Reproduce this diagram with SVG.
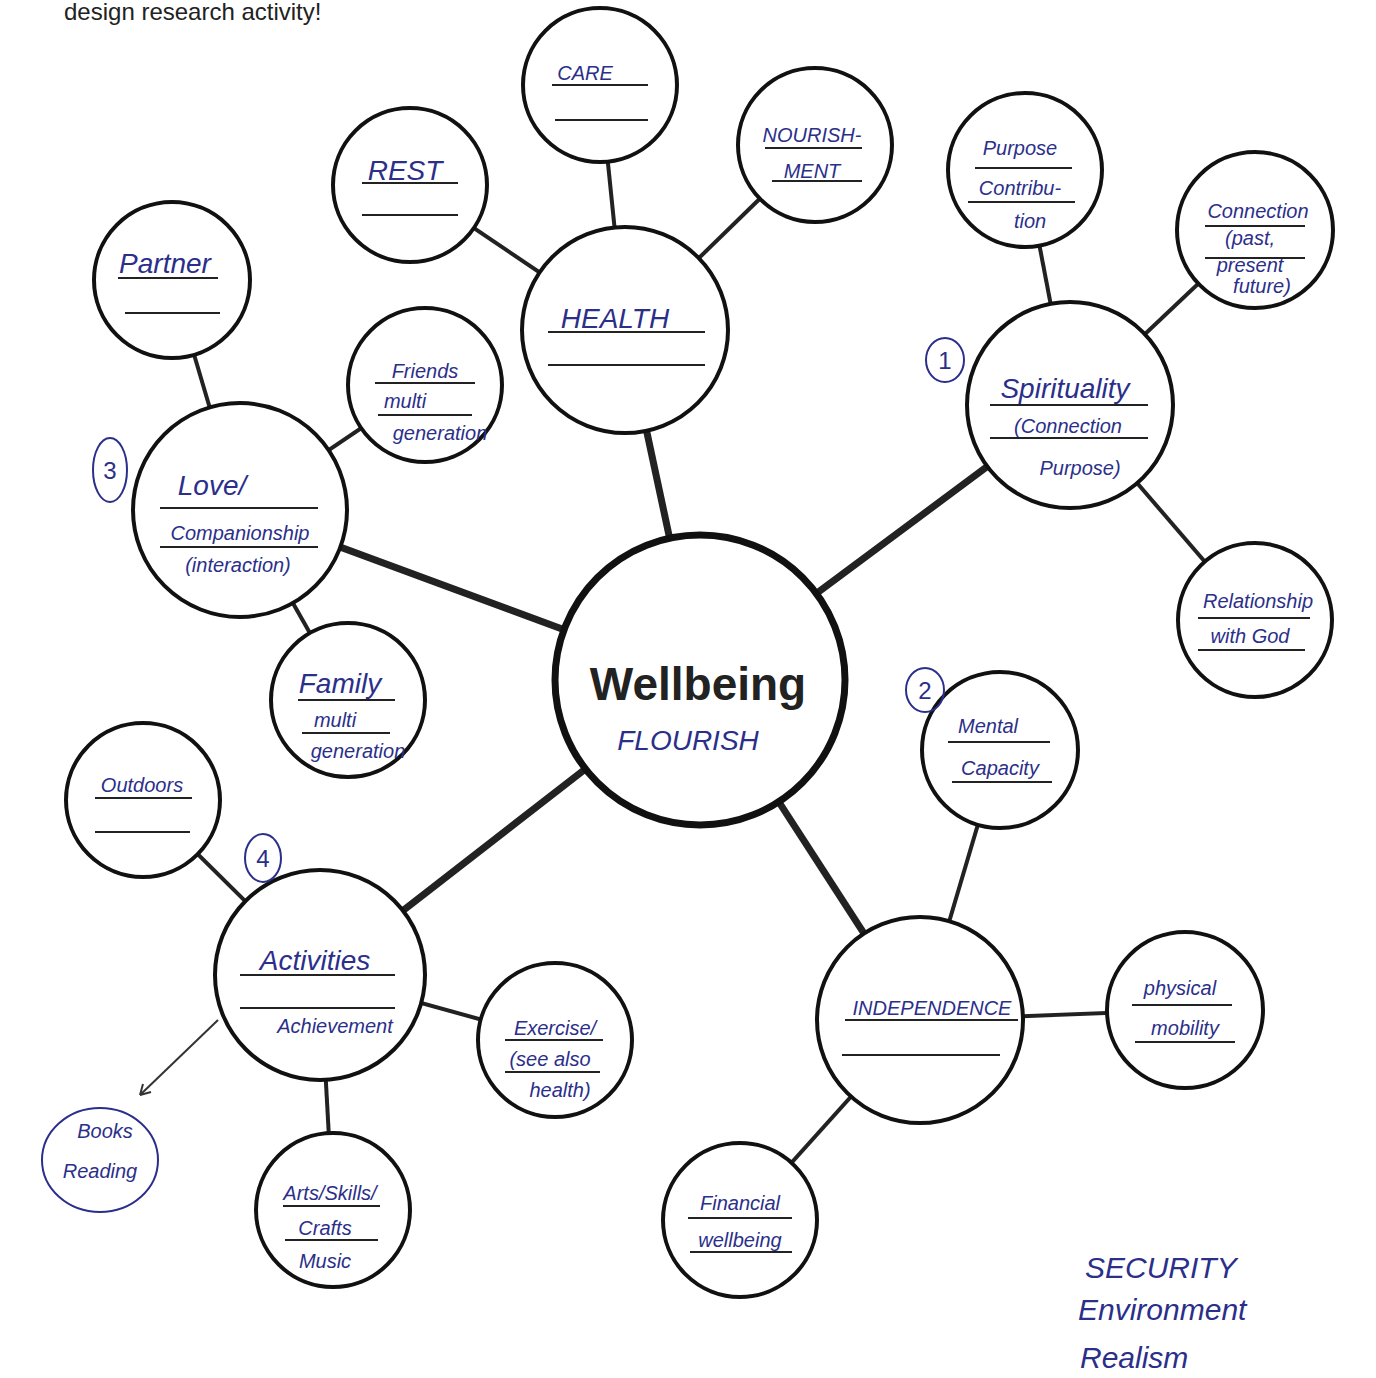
<svg xmlns="http://www.w3.org/2000/svg" width="1376" height="1378" viewBox="0 0 1376 1378">
<style>
.n{fill:#fff;stroke:#111;stroke-width:4}
.big{fill:#fff;stroke:#111;stroke-width:7}
.main{stroke:#222;stroke-width:7}
.sub{stroke:#222;stroke-width:4}
.u{stroke:#222;stroke-width:2}
.h{font-family:"Liberation Sans",sans-serif;font-style:italic;fill:#2b2f8a;font-size:28px;text-anchor:middle}
.s{font-size:20px}
.num{fill:none;stroke:#2b2f8a;stroke-width:2}
</style>
<rect width="1376" height="1378" fill="#fff"/>
<text x="64" y="20" font-family="Liberation Sans,sans-serif" font-size="24" fill="#222">design research activity!</text>
<g id="connectors">
<line class="main" x1="700" y1="680" x2="625" y2="330"/>
<line class="main" x1="700" y1="680" x2="240" y2="510"/>
<line class="main" x1="700" y1="680" x2="1070" y2="405"/>
<line class="main" x1="700" y1="680" x2="320" y2="975"/>
<line class="main" x1="700" y1="680" x2="920" y2="1020"/>
<line class="sub" x1="625" y1="330" x2="600" y2="85"/>
<line class="sub" x1="625" y1="330" x2="815" y2="145"/>
<line class="sub" x1="625" y1="330" x2="410" y2="185"/>
<line class="sub" x1="240" y1="510" x2="172" y2="280"/>
<line class="sub" x1="240" y1="510" x2="425" y2="385"/>
<line class="sub" x1="240" y1="510" x2="348" y2="700"/>
<line class="sub" x1="1070" y1="405" x2="1025" y2="170"/>
<line class="sub" x1="1070" y1="405" x2="1255" y2="230"/>
<line class="sub" x1="1070" y1="405" x2="1255" y2="620"/>
<line class="sub" x1="920" y1="1020" x2="1000" y2="750"/>
<line class="sub" x1="920" y1="1020" x2="1185" y2="1010"/>
<line class="sub" x1="920" y1="1020" x2="740" y2="1220"/>
<line class="sub" x1="320" y1="975" x2="143" y2="800"/>
<line class="sub" x1="320" y1="975" x2="555" y2="1040"/>
<line class="sub" x1="320" y1="975" x2="333" y2="1210"/>
<line x1="218" y1="1020" x2="140" y2="1095" stroke="#333" stroke-width="2"/>
<path d="M140 1095 l3 -11 M140 1095 l11 -3" stroke="#333" stroke-width="2" fill="none"/>
</g>
<g id="wellbeing"><circle class="big" cx="700" cy="680" r="145"/>
<text x="698" y="700" font-family="Liberation Sans,sans-serif" font-weight="bold" font-size="46" text-anchor="middle" fill="#222">Wellbeing</text>
<text class="h" x="688" y="750" font-style="normal">FLOURISH</text></g>
<g id="health"><circle class="n" cx="625" cy="330" r="103"/><text class="h" x="615" y="328" font-style="normal">HEALTH</text><line class="u" x1="548" y1="332" x2="705" y2="332"/><line class="u" x1="548" y1="365" x2="705" y2="365"/></g>
<g id="care"><circle class="n" cx="600" cy="85" r="77"/><text class="h s" x="585" y="80" font-style="normal">CARE</text><line class="u" x1="552" y1="85" x2="648" y2="85"/><line class="u" x1="555" y1="120" x2="648" y2="120"/></g>
<g id="nourish"><circle class="n" cx="815" cy="145" r="77"/><text class="h s" x="812" y="142" font-style="normal">NOURISH-</text><text class="h s" x="812" y="178" font-style="normal">MENT</text><line class="u" x1="765" y1="148" x2="862" y2="148"/><line class="u" x1="772" y1="181" x2="862" y2="181"/></g>
<g id="rest"><circle class="n" cx="410" cy="185" r="77"/><text class="h" x="405" y="180" font-style="normal">REST</text><line class="u" x1="362" y1="183" x2="458" y2="183"/><line class="u" x1="362" y1="215" x2="458" y2="215"/></g>
<g id="partner"><circle class="n" cx="172" cy="280" r="78"/><text class="h" x="165" y="273">Partner</text><line class="u" x1="118" y1="278" x2="218" y2="278"/><line class="u" x1="125" y1="313" x2="220" y2="313"/></g>
<g id="friends"><circle class="n" cx="425" cy="385" r="77"/><text class="h s" x="425" y="378">Friends</text><text class="h s" x="405" y="408" font-size="16">multi</text><text class="h s" x="440" y="440" font-size="16">generation</text><line class="u" x1="375" y1="383" x2="475" y2="383"/><line class="u" x1="378" y1="415" x2="472" y2="415"/></g>
<g id="love"><circle class="n" cx="240" cy="510" r="107"/><text class="h" x="212" y="495">Love/</text><text class="h s" x="240" y="540">Companionship</text><text class="h s" x="238" y="572" font-size="17">(interaction)</text><line class="u" x1="160" y1="508" x2="318" y2="508"/><line class="u" x1="160" y1="547" x2="318" y2="547"/></g>
<g id="family"><circle class="n" cx="348" cy="700" r="77"/><text class="h" x="340" y="693">Family</text><text class="h s" x="335" y="727" font-size="16">multi</text><text class="h s" x="358" y="758" font-size="16">generation</text><line class="u" x1="298" y1="700" x2="395" y2="700"/><line class="u" x1="302" y1="733" x2="390" y2="733"/></g>
<g id="spirit"><circle class="n" cx="1070" cy="405" r="103"/><text class="h" x="1065" y="398">Spirituality</text><text class="h s" x="1068" y="433">(Connection</text><text class="h s" x="1080" y="475">Purpose)</text><line class="u" x1="990" y1="405" x2="1148" y2="405"/><line class="u" x1="990" y1="438" x2="1148" y2="438"/></g>
<g id="purpose"><circle class="n" cx="1025" cy="170" r="77"/><text class="h s" x="1020" y="155">Purpose</text><text class="h s" x="1020" y="195">Contribu-</text><text class="h s" x="1030" y="228">tion</text><line class="u" x1="975" y1="168" x2="1072" y2="168"/><line class="u" x1="968" y1="202" x2="1075" y2="202"/></g>
<g id="connection"><circle class="n" cx="1255" cy="230" r="78"/><text class="h s" x="1258" y="218">Connection</text><text class="h s" x="1250" y="245" font-size="15">(past,</text><text class="h s" x="1250" y="272" font-size="15">present</text><text class="h s" x="1262" y="293" font-size="15">future)</text><line class="u" x1="1205" y1="226" x2="1305" y2="226"/><line class="u" x1="1205" y1="258" x2="1305" y2="258"/></g>
<g id="god"><circle class="n" cx="1255" cy="620" r="77"/><text class="h s" x="1258" y="608">Relationship</text><text class="h s" x="1250" y="643">with God</text><line class="u" x1="1198" y1="618" x2="1310" y2="618"/><line class="u" x1="1198" y1="650" x2="1305" y2="650"/></g>
<g id="mental"><circle class="n" cx="1000" cy="750" r="78"/><text class="h s" x="988" y="733">Mental</text><text class="h s" x="1000" y="775">Capacity</text><line class="u" x1="948" y1="742" x2="1050" y2="742"/><line class="u" x1="952" y1="782" x2="1052" y2="782"/></g>
<g id="indep"><circle class="n" cx="920" cy="1020" r="103"/><text class="h s" x="932" y="1015" font-style="normal">INDEPENDENCE</text><line class="u" x1="845" y1="1020" x2="1018" y2="1020"/><line class="u" x1="842" y1="1055" x2="1000" y2="1055"/></g>
<g id="mobility"><circle class="n" cx="1185" cy="1010" r="78"/><text class="h s" x="1180" y="995">physical</text><text class="h s" x="1185" y="1035">mobility</text><line class="u" x1="1132" y1="1005" x2="1232" y2="1005"/><line class="u" x1="1135" y1="1042" x2="1235" y2="1042"/></g>
<g id="financial"><circle class="n" cx="740" cy="1220" r="77"/><text class="h s" x="740" y="1210">Financial</text><text class="h s" x="740" y="1247">wellbeing</text><line class="u" x1="688" y1="1218" x2="792" y2="1218"/><line class="u" x1="690" y1="1252" x2="792" y2="1252"/></g>
<g id="activities"><circle class="n" cx="320" cy="975" r="105"/><text class="h" x="315" y="970">Activities</text><text class="h s" x="335" y="1033">Achievement</text><line class="u" x1="240" y1="975" x2="395" y2="975"/><line class="u" x1="240" y1="1008" x2="395" y2="1008"/></g>
<g id="outdoors"><circle class="n" cx="143" cy="800" r="77"/><text class="h s" x="142" y="792">Outdoors</text><line class="u" x1="95" y1="798" x2="192" y2="798"/><line class="u" x1="95" y1="832" x2="190" y2="832"/></g>
<g id="exercise"><circle class="n" cx="555" cy="1040" r="77"/><text class="h s" x="555" y="1035">Exercise/</text><text class="h s" x="550" y="1066">(see also</text><text class="h s" x="560" y="1097">health)</text><line class="u" x1="505" y1="1040" x2="603" y2="1040"/><line class="u" x1="505" y1="1072" x2="600" y2="1072"/></g>
<g id="arts"><circle class="n" cx="333" cy="1210" r="77"/><text class="h s" x="330" y="1200">Arts/Skills/</text><text class="h s" x="325" y="1235">Crafts</text><text class="h s" x="325" y="1268">Music</text><line class="u" x1="283" y1="1206" x2="380" y2="1206"/><line class="u" x1="285" y1="1240" x2="378" y2="1240"/></g>
<g id="books"><ellipse cx="100" cy="1160" rx="58" ry="52" fill="none" stroke="#2b2f8a" stroke-width="2"/><text class="h s" x="105" y="1138">Books</text><text class="h s" x="100" y="1178">Reading</text></g>
<g id="numbers" font-family="Liberation Sans,sans-serif" font-size="24" fill="#2b2f8a" text-anchor="middle">
<ellipse class="num" cx="945" cy="360" rx="19" ry="22"/><text x="945" y="369">1</text>
<ellipse class="num" cx="925" cy="690" rx="19" ry="22"/><text x="925" y="699">2</text>
<ellipse class="num" cx="110" cy="470" rx="17" ry="32"/><text x="110" y="479">3</text>
<ellipse class="num" cx="263" cy="858" rx="18" ry="24"/><text x="263" y="867">4</text>
</g>
<g id="notes" font-family="Liberation Sans,sans-serif" font-style="italic" font-size="30" fill="#2b2f8a">
<text x="1085" y="1278">SECURITY</text>
<text x="1078" y="1320">Environment</text>
<text x="1080" y="1368">Realism</text>
</g>
</svg>
